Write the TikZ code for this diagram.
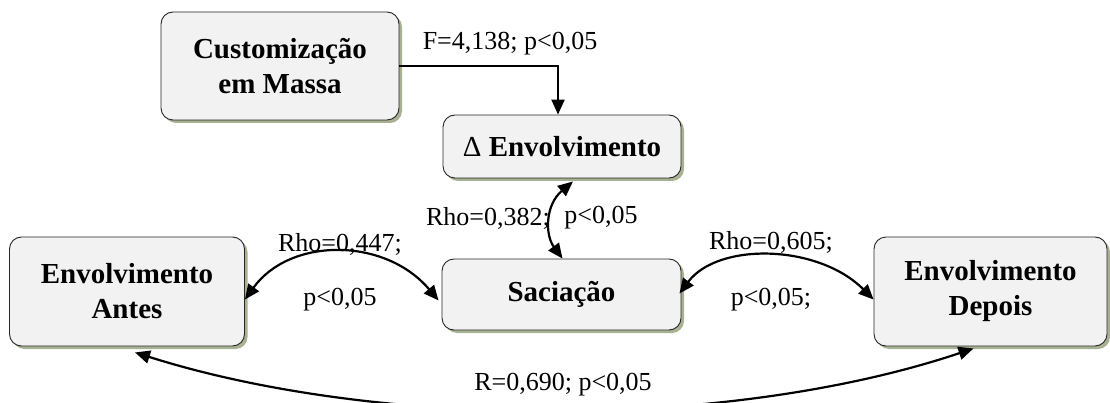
\documentclass[tikz,border=0pt]{standalone}
\usepackage{fontspec}
\setmainfont{Liberation Serif}
\usetikzlibrary{arrows.meta,shadows,calc}
\definecolor{boxfill}{HTML}{F2F2F2}
\definecolor{shadowc}{HTML}{A9B193}
\begin{document}
\begin{tikzpicture}[x=1pt,y=-1pt,
  box/.style={draw=black!85, line width=0.9pt, fill=boxfill, rounded corners=12pt,
    align=center, font=\fontsize{29}{35}\selectfont\bfseries, inner sep=0pt,
    general shadow={fill=shadowc, shadow xshift=3pt, shadow yshift=-3pt}},
  lab/.style={font=\fontsize{26}{30}\selectfont, inner sep=0pt},
  con/.style={line width=2.2pt, -{Triangle[length=15pt,width=13pt]}},
  bicon/.style={line width=2.2pt, {Triangle[length=15pt,width=13pt]}-{Triangle[length=15pt,width=13pt]}}]
\useasboundingbox (0,0) rectangle (1110,403);
\clip (0,0) rectangle (1110,403);
% boxes
\node[box, minimum width=238pt, minimum height=108pt] (cm) at (280,66) {Customização\\em Massa};
\node[box, minimum width=238pt, minimum height=63pt] (de) at (562,146.5) {{\mdseries Δ} Envolvimento};
\node[box, minimum width=239pt, minimum height=71pt] (sa) at (561.5,294.5) {Saciação};
\node[box, minimum width=235pt, minimum height=109pt] (an) at (127,291.5) {Envolvimento\\Antes};
\node[box, minimum width=233pt, minimum height=109pt] (dp) at (990.5,291.5) {Envolvimento\\Depois};
% connectors
\draw[con] (cm.east) -| ($(de.north)+(-4,0)$);
\draw[bicon] ($(de.south)+(11,3)$) .. controls (545,205) and (545,235) .. ($(sa.north)+(1,0)$);
\draw[bicon] ($(an.east)+(0,8)$) .. controls (290,237) and (385,237) .. ($(sa.west)+(-3,6)$);
\draw[bicon] ($(sa.east)+(-2,-1)$) .. controls (718,242) and (818,244) .. ($(dp.west)+(0,8)$);
\draw[bicon] ($(an.south)+(8,6)$) .. controls (380,430) and (730,430) .. ($(dp.south)+(-17,2)$);
% labels
\node[lab] (lf) at (510,44) {F=4,138; p<0,05};
\node[lab] (lr1) at (488,218) {Rho=0,382;};
\node[lab] (lp1) at (601,218) {p<0,05};
\node[lab] (lr2) at (340,244) {Rho=0,447;};
\node[lab] (lp2) at (340,300) {p<0,05};
\node[lab] (lr3) at (771,242) {Rho=0,605;};
\node[lab] (lp3) at (771,300) {p<0,05;};
\node[lab] (lr4) at (563,385) {R=0,690; p<0,05};
\end{tikzpicture}
\end{document}
